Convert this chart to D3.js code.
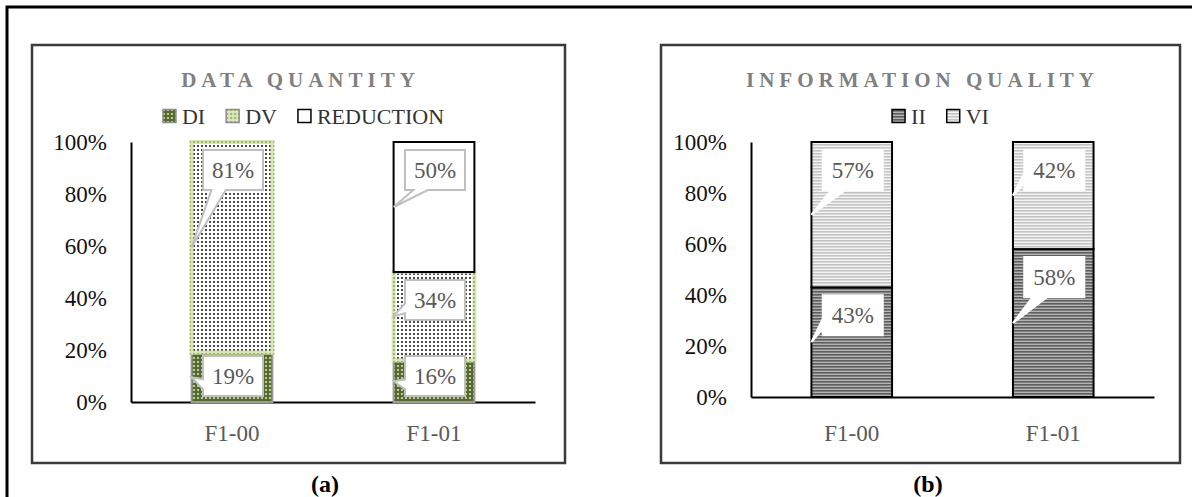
<!DOCTYPE html>
<head>
  <meta charset="utf-8">
  <title>Data quantity and information quality</title>
  <style>
    body { margin: 0; background: #fff; }
    svg { display: block; font-family: "Palatino Linotype", "Book Antiqua", Palatino, "Liberation Serif", serif; }
    .axis .tick line { display: none; }
  </style>
</head>
<body>
  <svg width="1192" height="497"></svg>
  <script src="https://d3js.org/d3.v7.min.js"></script>
  <script>
    var categories = ["F1-00", "F1-01"];
    var yTicks = [0, 20, 40, 60, 80, 100];

    // (a) data quantity
    var quantityKeys = ["DI", "DV", "REDUCTION"];
    var diValues = [19, 16];
    var dvValues = [81, 34];
    var reductionValues = [0, 50];

    // (b) information quality
    var qualityKeys = ["II", "VI"];
    var iiValues = [43, 58];
    var viValues = [57, 42];

    var svg = d3.select("svg");
    var defs = svg.append("defs");

    //small tiled patterns for the bar fills
    function dotPattern(id, bg, dot) {
      var p = defs.append("pattern").attr("id", id)
          .attr("patternUnits", "userSpaceOnUse").attr("width", 4).attr("height", 4);
      p.append("rect").attr("width", 4).attr("height", 4).attr("fill", bg);
      p.append("rect").attr("x", 1).attr("y", 1).attr("width", 2).attr("height", 2).attr("fill", dot);
    }
    function stripePattern(id, dark, light) {
      var p = defs.append("pattern").attr("id", id)
          .attr("patternUnits", "userSpaceOnUse").attr("width", 4).attr("height", 3);
      p.append("rect").attr("width", 4).attr("height", 3).attr("fill", light);
      p.append("rect").attr("width", 4).attr("height", 1.6).attr("fill", dark);
    }
    dotPattern("diFill", "#56692f", "#bccb9c");
    dotPattern("dvFill", "#ffffff", "#4a4a4a");
    dotPattern("dvEdge", "#d7e4bd", "#9bbb59");
    stripePattern("iiFill", "#5e5e5e", "#b4b4b4");
    stripePattern("viFill", "#c4c4c4", "#f4f4f4");

    var styles = {
      DI:        {fill: "url(#diFill)", stroke: "#9a9a9a", width: 2, swatch: "url(#diFill)", edge: "#8c8c8c"},
      DV:        {fill: "url(#dvFill)", stroke: "url(#dvEdge)", width: 4, swatch: "url(#dvEdge)", edge: "#8c8c8c"},
      REDUCTION: {fill: "#ffffff", stroke: "#000", width: 2, swatch: "#ffffff", edge: "#000"},
      II:        {fill: "url(#iiFill)", stroke: "#000", width: 2, swatch: "url(#iiFill)", edge: "#000"},
      VI:        {fill: "url(#viFill)", stroke: "#000", width: 2, swatch: "url(#viFill)", edge: "#000"}
    };

    //outer frame (top + left rule)
    svg.append("path").attr("d", "M7,497V7H1192")
        .attr("fill", "none").attr("stroke", "#000").attr("stroke-width", 3);

    //Excel style wedge callout
    function callout(g, cx, cy, tx, ty, w, h, text, edge) {
      var l = cx - w / 2, r = cx + w / 2, t = cy - h / 2, b = cy + h / 2;
      var dx = tx - cx, dy = ty - cy, pts;
      if (Math.abs(dx) / w > Math.abs(dy) / h) {
        var ya = t + h * (dy > 0 ? 7 / 12 : 2 / 12), yb = t + h * (dy > 0 ? 10 / 12 : 5 / 12);
        if (dx < 0) pts = [[l, t], [r, t], [r, b], [l, b], [l, yb], [tx, ty], [l, ya]];
        else pts = [[l, t], [r, t], [r, ya], [tx, ty], [r, yb], [r, b], [l, b]];
      } else {
        var xa = l + w * (dx < 0 ? 0.14 : 0.62), xb = l + w * (dx < 0 ? 0.38 : 0.86);
        if (dy > 0) pts = [[l, t], [r, t], [r, b], [xb, b], [tx, ty], [xa, b], [l, b]];
        else pts = [[l, t], [xa, t], [tx, ty], [xb, t], [r, t], [r, b], [l, b]];
      }
      g.append("path")
          .attr("d", d3.line()(pts) + "Z")
          .attr("fill", "#fff")
          .attr("stroke", edge)
          .attr("stroke-width", 2);
      g.append("text")
          .attr("x", cx).attr("y", cy).attr("dy", "0.35em")
          .attr("text-anchor", "middle")
          .attr("font-size", 23)
          .attr("fill", "#595959")
          .text(text);
    }

    function drawPanel(cfg) {
      //chart area frame
      svg.append("rect")
          .attr("x", cfg.box[0]).attr("y", cfg.box[1])
          .attr("width", cfg.box[2] - cfg.box[0]).attr("height", cfg.box[3] - cfg.box[1])
          .attr("fill", "#fff").attr("stroke", "#3a3a3a").attr("stroke-width", 2.5);

      var cxBox = (cfg.box[0] + cfg.box[2]) / 2;

      svg.append("text")
          .attr("x", cxBox + 2).attr("y", 87)
          .attr("text-anchor", "middle")
          .attr("font-size", 21).attr("font-weight", "bold")
          .attr("letter-spacing", cfg.spacing)
          .attr("fill", "#808080")
          .text(cfg.title);

      var x = d3.scaleBand().domain(categories)
          .range([cfg.plot.left, cfg.plot.right])
          .paddingInner(0.6).paddingOuter(0.3);
      var y = d3.scaleLinear().domain([0, 100]).range([cfg.plot.bottom, cfg.plot.top]);

      var rows = categories.map(function(c, i) {
        var row = {cat: c};
        cfg.keys.forEach(function(k, j) { row[k] = cfg.series[j][i]; });
        return row;
      });
      var stacked = d3.stack().keys(cfg.keys)(rows);

      //axes
      var yAxis = svg.append("g").attr("class", "axis")
          .attr("transform", "translate(" + cfg.plot.left + ",0)")
          .call(d3.axisLeft(y).tickValues(yTicks).tickSize(0).tickPadding(24)
              .tickFormat(function(d) { return d + "%"; }))
          .attr("font-family", null).attr("font-size", 23);
      yAxis.selectAll("text").attr("fill", "#111");
      yAxis.select(".domain").attr("stroke", "#000").attr("stroke-width", 2);

      var xAxis = svg.append("g").attr("class", "axis")
          .attr("transform", "translate(0," + cfg.plot.bottom + ")")
          .call(d3.axisBottom(x).tickSize(0).tickPadding(cfg.xPad))
          .attr("font-family", null).attr("font-size", 23);
      xAxis.selectAll("text").attr("fill", "#595959");
      xAxis.select(".domain").attr("stroke", "#000").attr("stroke-width", 2);

      //stacked bars
      stacked.forEach(function(layer) {
        var st = styles[layer.key];
        svg.append("g").selectAll("rect")
          .data(layer.filter(function(d) { return d[1] > d[0]; }))
          .enter().append("rect")
            .attr("x", function(d) { return x(d.data.cat); })
            .attr("y", function(d) { return y(d[1]); })
            .attr("width", x.bandwidth())
            .attr("height", function(d) { return y(d[0]) - y(d[1]); })
            .attr("fill", st.fill)
            .attr("stroke", st.stroke)
            .attr("stroke-width", st.width);
      });

      //data callouts
      var labels = svg.append("g");
      stacked.forEach(function(layer) {
        layer.forEach(function(d) {
          var v = d[1] - d[0];
          if (v <= 0) return;
          var top = y(d[1]), bottom = y(d[0]);
          var left = x(d.data.cat);
          var cy = Math.min(top + 28, bottom - 26);
          callout(labels, left + x.bandwidth() / 2 + 1, cy, left, (top + bottom) / 2,
                  60, 40, v + "%", cfg.calloutEdge);
        });
      });

      //legend
      var legend = svg.append("g").attr("font-size", 22).attr("fill", "#333");
      var pos = 0;
      cfg.keys.forEach(function(k, i) {
        var item = legend.append("g").attr("transform", "translate(" + pos + ",0)");
        var st = styles[k];
        item.append("rect")
            .attr("x", 1).attr("y", -6.5).attr("width", 13).attr("height", 13)
            .attr("fill", st.swatch)
            .attr("stroke", st.edge)
            .attr("stroke-width", 1.5);
        var t = item.append("text").attr("x", 20).attr("dy", "0.35em").text(k);
        pos += 20 + t.node().getComputedTextLength() + 20;
      });
      pos -= 20;
      legend.attr("transform", "translate(" + (cfg.legendCx - pos / 2) + ",116)");

      svg.append("text")
          .attr("x", cfg.captionX).attr("y", 484).attr("dy", "0.35em")
          .attr("text-anchor", "middle")
          .attr("font-size", 24).attr("font-weight", "bold")
          .attr("fill", "#000")
          .text(cfg.caption);
    }

    drawPanel({
      title: "DATA QUANTITY", spacing: 5,
      box: [32, 45, 565, 463],
      plot: {left: 131, right: 535, top: 142, bottom: 402},
      keys: quantityKeys, series: [diValues, dvValues, reductionValues],
      xPad: 23, legendCx: 303, calloutEdge: "#bfbfbf",
      caption: "(a)", captionX: 325
    });

    drawPanel({
      title: "INFORMATION QUALITY", spacing: 5,
      box: [661, 45, 1180, 463],
      plot: {left: 751, right: 1154, top: 142, bottom: 397},
      keys: qualityKeys, series: [iiValues, viValues],
      xPad: 28, legendCx: 940, calloutEdge: "#ffffff",
      caption: "(b)", captionX: 928
    });
  </script>
</body>
